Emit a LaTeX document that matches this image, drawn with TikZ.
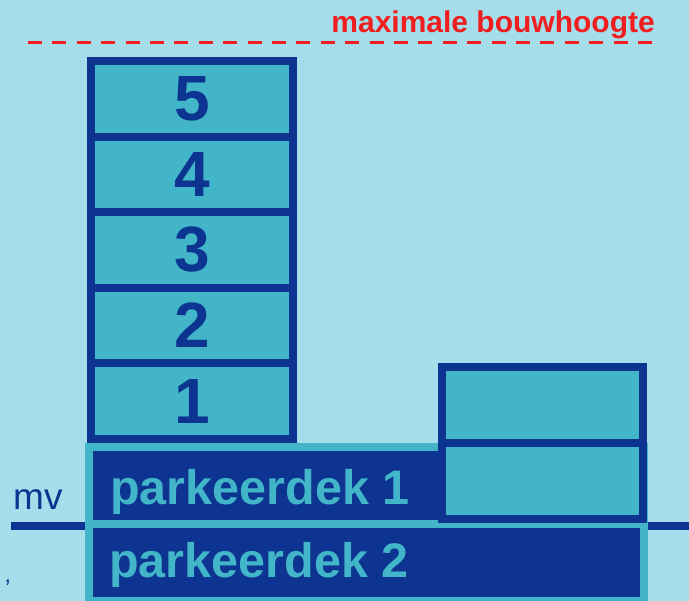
\documentclass[tikz,border=0pt]{standalone}
\usepackage{fontspec}
\setmainfont{Liberation Sans}
\usepackage{tikz}
\definecolor{sky}{HTML}{A5DEEA}
\definecolor{lagoon}{HTML}{42B6C8}
\definecolor{deepblue}{HTML}{0C3490}
\definecolor{alarm}{HTML}{F01E1E}
\tikzset{floor/.style={rectangle,draw=deepblue,fill=lagoon,line width=8pt,outer sep=0pt,inner sep=0pt,minimum width=202pt,minimum height=75.6pt,text=deepblue,font=\bfseries\fontsize{64}{64}\selectfont}}
\tikzset{annex/.style={floor,minimum width=201pt,minimum height=76pt}}
\tikzset{deck/.style={rectangle,draw=lagoon,fill=deepblue,line width=8pt,outer sep=0pt,inner sep=0pt,minimum width=555pt,minimum height=77pt}}
\tikzset{decklabel/.style={anchor=base west,inner sep=0pt,text=lagoon,font=\bfseries\fontsize{48.5}{48.5}\selectfont}}
\tikzset{ground/.style={draw=deepblue,line width=8pt}}
\tikzset{maxline/.style={draw=alarm,line width=3pt,dash pattern=on 14pt off 10.4pt}}

\begin{document}
\begin{tikzpicture}[x=1pt,y=-1pt]
    \useasboundingbox[fill=sky] (0,0) rectangle (689,601);
    \coordinate (mvL) at (11,526);
    \coordinate (mvR) at (689,526);
    \draw[ground] (mvL) -- (mvR);
    \node[anchor=base west,inner sep=0pt,text=deepblue,font=\fontsize{37}{37}\selectfont] (mv) at (13,510) {mv};
    \coordinate (maxL) at (28,43);
    \coordinate (maxR) at (652,43);
    \draw[maxline] (maxL) -- (maxR);
    \node[anchor=base east,inner sep=0pt,text=alarm,font=\bfseries\fontsize{30}{30}\selectfont] (maxh) at (655,33) {maximale bouwhoogte};
    \node[deck] (pk1) at (366.5,485.5) {};
    \node[deck] (pk2) at (366.5,562.5) {};
    \node[decklabel] (pk1t) at (110,505) {parkeerdek 1};
    \node[decklabel] (pk2t) at (109,578) {parkeerdek 2};
    \node[floor] (f5) at (192,98.8) {5};
    \node[floor] (f4) at (192,174.4) {4};
    \node[floor] (f3) at (192,250) {3};
    \node[floor] (f2) at (192,325.6) {2};
    \node[floor] (f1) at (192,401.2) {1};
    \node[annex] (a2) at (542.5,405) {};
    \node[annex] (a1) at (542.5,481) {};
    \node[anchor=base west,inner sep=0pt,text=deepblue,font=\fontsize{24}{24}\selectfont] (tick) at (5,597) {’};
\end{tikzpicture}
\end{document}
